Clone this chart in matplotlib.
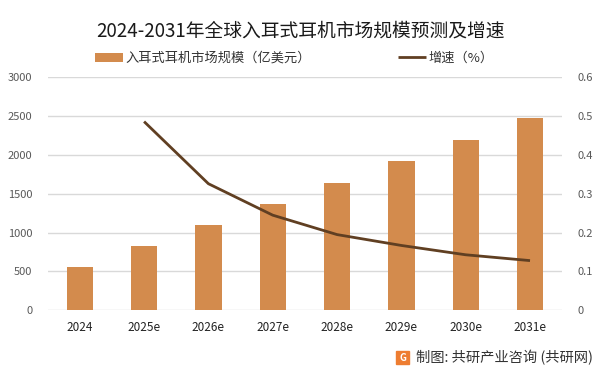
import matplotlib.pyplot as plt
import numpy as np

plt.rcParams['font.family'] = ['Noto Sans CJK SC', 'DejaVu Sans']

years = ['2024', '2025e', '2026e', '2027e', '2028e', '2029e', '2030e', '2031e']
market_size = [559, 831, 1102, 1373, 1645, 1916, 2187, 2472]
growth = [None, 0.486, 0.326, 0.245, 0.195, 0.167, 0.143, 0.128]

bar_color = '#D38B4D'
line_color = '#603F22'
grid_color = '#D9D9D9'

fig = plt.figure(figsize=(6.01, 3.76), dpi=100)
ax = fig.add_axes([0.0792, 0.1747, 0.8562, 0.6197])
ax2 = ax.twinx()

x = np.arange(len(years))
ax.bar(x, market_size, width=0.41, color=bar_color, zorder=2,
       label='入耳式耳机市场规模（亿美元）')
gx = [i for i, g in enumerate(growth) if g is not None]
gy = [g for g in growth if g is not None]
ax2.plot(gx, gy, color=line_color, linewidth=2.0, label='增速（%）',
         solid_capstyle='butt')

ax.set_xlim(-0.5, len(years) - 0.5)
ax.set_ylim(0, 3000)
ax.set_yticks(np.arange(0, 3001, 500))
ax2.set_ylim(0, 0.6)
ax2.set_yticks(np.arange(0, 0.61, 0.1))
ax2.set_yticklabels(['0', '0.1', '0.2', '0.3', '0.4', '0.5', '0.6'])

ax.set_xticks(x)
ax.set_xticklabels(years)
ax.grid(axis='y', color=grid_color, linewidth=1.0, zorder=0)
ax.set_axisbelow(True)

for a in (ax, ax2):
    for s in a.spines.values():
        s.set_visible(False)
    a.tick_params(length=0, labelsize=8, labelcolor='#595959')
ax.tick_params(axis='y', pad=11)
ax2.tick_params(axis='y', pad=11)
ax.tick_params(axis='x', pad=8, labelcolor='#222222', labelsize=8.5)

fig.text(0.5, 0.918, '2024-2031年全球入耳式耳机市场规模预测及增速',
         ha='center', va='center', fontsize=13.5, color='#1a1a1a')

h1, l1 = ax.get_legend_handles_labels()
h2, l2 = ax2.get_legend_handles_labels()
fig.legend(h1 + h2, l1 + l2, loc='center', bbox_to_anchor=(0.49, 0.845),
           ncol=2, frameon=False, fontsize=9.5, columnspacing=6.6,
           handlelength=2.1, handletextpad=0.2, labelcolor='#333333')

# source line with logo
fig.patches.append(plt.Rectangle((0.659, 0.032), 0.022, 0.035,
                                 transform=fig.transFigure, color='#EE7D31',
                                 zorder=3))
fig.text(0.670, 0.049, 'G', fontsize=7, color='white', fontweight='bold',
         ha='center', va='center', zorder=4)
fig.text(0.693, 0.049, '制图: 共研产业咨询 (共研网)', fontsize=10.3,
         color='#333333', ha='left', va='center')

fig.savefig('out.png', dpi=100)
